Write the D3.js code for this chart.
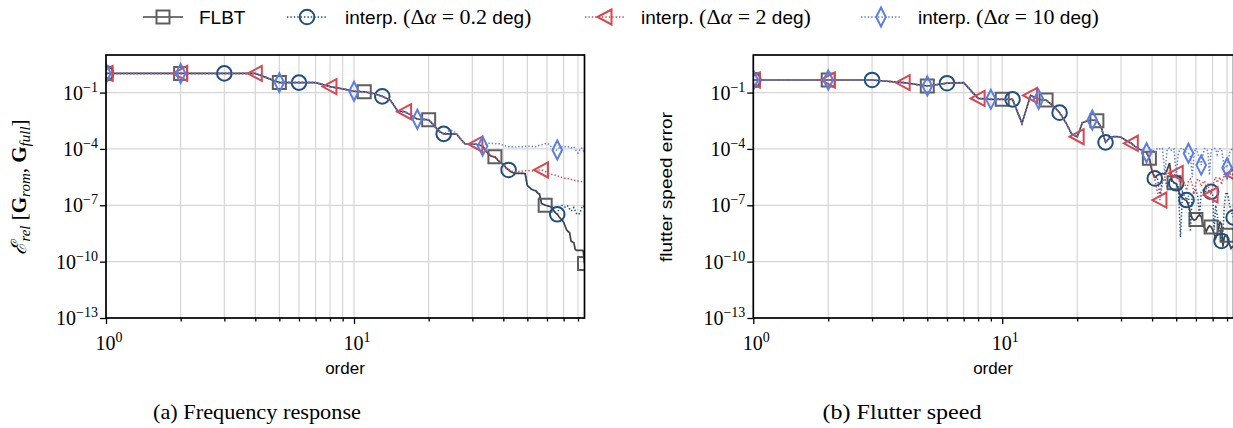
<!DOCTYPE html>
<html>
<head>
<meta charset="utf-8">
<script src="https://cdn.jsdelivr.net/npm/d3@7"></script>
<style>
  body { margin: 0; background: #fff; }
  svg { display: block; }
  .sans { font-family: 'Liberation Sans', Arial, sans-serif; }
  .serif { font-family: 'Liberation Serif', 'DejaVu Serif', serif; }
</style>
</head>
<body>
<svg id="chart" width="1233" height="428"></svg>
<script>
/* eslint-disable require-jsdoc */

// model orders 1..85 (x axis)
const orders = d3.range(1, 86);

// log10 of the error, one value per order
// (a) frequency response
const freqFlbt = [
  0.02, 0.02, 0.02, 0.02, -0.47, -0.47, -0.47, -0.68, -0.8, -0.93,
  -0.96, -1.05, -1.2, -1.4, -1.98, -2.02, -2.2, -2.42, -2.43, -2.45,
  -2.75, -3.05, -3.2, -3.2, -3.2, -3.22, -3.5, -3.72, -3.75, -3.75,
  -3.75, -3.8, -3.85, -4.1, -4.3, -4.4, -4.42, -4.6, -4.75, -4.8,
  -5.0, -5.12, -5.22, -5.28, -5.3, -5.3, -5.3, -5.3, -5.32, -5.95,
  -6.05, -6.15, -6.2, -6.22, -6.35, -6.4, -6.9, -6.95, -7.0, -7.02,
  -7.05, -7.08, -7.1, -7.3, -7.4, -7.48, -7.6, -7.7, -7.8, -7.9,
  -8.1, -8.3, -8.4, -8.45, -8.9, -8.95, -9.0, -9.35, -9.4, -9.4,
  -9.4, -9.4, -9.4, -9.42, -10.1,
];
const freqInterp02 = [
  0.02, 0.02, 0.02, 0.02, -0.47, -0.47, -0.47, -0.68, -0.8, -0.93,
  -0.96, -1.05, -1.2, -1.4, -1.98, -2.02, -2.2, -2.42, -2.43, -2.45,
  -2.75, -3.05, -3.2, -3.2, -3.2, -3.22, -3.5, -3.72, -3.75, -3.75,
  -3.75, -3.8, -3.85, -4.1, -4.3, -4.4, -4.42, -4.6, -4.75, -4.8,
  -5.0, -5.12, -5.22, -5.28, -5.3, -5.3, -5.3, -5.3, -5.32, -5.95,
  -6.05, -6.15, -6.2, -6.22, -6.35, -6.4, -6.9, -6.95, -7.0, -7.02,
  -7.05, -7.08, -7.1, -7.3, -7.4, -7.48, -7.2, -7.05, -7.0, -7.05,
  -7.1, -7.02, -7.05, -7.2, -7.3, -7.25, -7.12, -7.3, -7.45, -7.5,
  -7.45, -7.3, -7.1, -7.02, -7.1,
];
const freqInterp2 = [
  0.02, 0.02, 0.02, 0.02, -0.47, -0.47, -0.47, -0.68, -0.8, -0.93,
  -0.96, -1.05, -1.2, -1.4, -1.98, -2.02, -2.2, -2.42, -2.43, -2.45,
  -2.75, -3.05, -3.2, -3.2, -3.2, -3.22, -3.5, -3.72, -3.75, -3.75,
  -3.75, -3.8, -3.85, -4.1, -4.3, -4.4, -4.42, -4.6, -4.75, -4.8,
  -5.0, -5.12, -5.18, -5.2, -5.21, -5.2, -5.18, -5.17, -5.16, -5.15,
  -5.16, -5.17, -5.16, -5.15, -5.13, -5.12, -5.12, -5.15, -5.2, -5.25,
  -5.3, -5.33, -5.36, -5.38, -5.4, -5.43, -5.46, -5.5, -5.52, -5.54,
  -5.56, -5.57, -5.58, -5.6, -5.62, -5.64, -5.66, -5.68, -5.7, -5.71,
  -5.72, -5.73, -5.74, -5.75, -5.76,
];
const freqInterp10 = [
  0.02, 0.02, 0.02, 0.02, -0.47, -0.47, -0.47, -0.68, -0.8, -0.93,
  -0.96, -1.05, -1.2, -1.4, -1.98, -2.02, -2.2, -2.42, -2.43, -2.45,
  -2.75, -3.05, -3.2, -3.05, -3.0, -3.22, -3.5, -3.72, -3.75, -3.75,
  -3.75, -3.8, -3.85, -3.75, -3.7, -3.7, -3.72, -3.7, -3.75, -3.8,
  -3.85, -3.88, -3.9, -3.88, -3.9, -3.88, -3.9, -3.88, -3.86, -3.88,
  -3.86, -3.88, -3.85, -3.88, -3.84, -3.8, -3.78, -3.75, -3.72, -3.7,
  -3.75, -3.85, -3.95, -4.0, -4.05, -4.06, -3.95, -3.9, -3.88, -3.85,
  -3.88, -3.9, -3.88, -3.9, -3.95, -3.92, -3.88, -4.0, -4.15, -4.22,
  -4.1, -3.95, -3.97, -4.1, -4.15,
];

// (b) flutter speed
const flutFlbt = [
  -0.33, -0.33, -0.33, -0.47, -0.65, -0.5, -0.47, -1.31, -1.36, -1.36,
  -1.36, -2.64, -1.15, -1.36, -1.4, -1.7, -2.07, -2.6, -3.2, -3.35,
  -2.6, -2.5, -2.46, -2.5, -2.85, -3.65, -3.4, -3.35, -3.35, -3.38,
  -3.5, -3.6, -3.7, -3.85, -3.95, -4.05, -4.12, -4.2, -4.5, -5.2,
  -5.5, -5.4, -5.35, -5.3, -5.35, -5.1, -4.75, -5.65, -5.8, -5.85,
  -6.2, -6.5, -6.6, -6.7, -6.75, -7.0, -7.4, -7.7, -7.8, -7.75,
  -7.6, -7.5, -7.6, -8.0, -8.2, -8.4, -8.2, -8.1, -8.15, -8.3,
  -8.5, -8.75, -8.5, -8.2, -7.9, -8.0, -9.2, -8.7, -8.6, -8.6,
  -9.0, -9.1, -9.3, -9.2, -9.2,
];
const flutInterp02 = [
  -0.33, -0.33, -0.33, -0.47, -0.65, -0.5, -0.47, -1.31, -1.36, -1.36,
  -1.36, -2.64, -1.15, -1.36, -1.4, -1.7, -2.07, -2.6, -3.2, -3.35,
  -2.6, -2.5, -2.46, -2.5, -2.85, -3.65, -3.4, -3.35, -3.35, -3.38,
  -3.5, -3.6, -3.7, -3.85, -3.95, -4.05, -4.12, -4.2, -4.5, -5.2,
  -5.57, -5.5, -6.5, -5.6, -5.6, -6.0, -5.8, -5.7, -5.8, -5.83,
  -6.0, -8.7, -6.3, -6.5, -6.72, -6.5, -8.4, -6.4, -6.3, -6.2,
  -6.5, -7.6, -6.3, -6.2, -6.3, -6.25, -6.2, -6.28, -6.28, -6.4,
  -8.3, -7.0, -7.5, -8.0, -8.6, -8.9, -8.5, -7.0, -6.4, -6.3,
  -6.6, -7.0, -7.3, -7.5, -7.65,
];
const flutInterp2 = [
  -0.33, -0.33, -0.33, -0.47, -0.65, -0.5, -0.47, -1.31, -1.36, -1.36,
  -1.36, -2.64, -1.15, -1.36, -1.4, -1.7, -2.07, -2.6, -3.2, -3.35,
  -2.6, -2.5, -2.46, -2.5, -2.85, -3.65, -3.4, -3.35, -3.35, -3.38,
  -3.5, -3.6, -3.7, -3.85, -3.95, -4.05, -4.12, -4.2, -4.5, -5.1,
  -5.6, -6.3, -6.72, -5.8, -5.5, -5.2, -5.0, -5.6, -5.4, -5.3,
  -5.6, -5.9, -5.7, -5.8, -6.2, -5.7, -5.6, -5.9, -6.4, -5.8,
  -5.6, -5.7, -6.0, -5.8, -5.7, -6.1, -5.9, -6.2, -6.45, -6.0,
  -5.7, -5.5, -5.8, -5.6, -5.5, -5.9, -5.6, -5.4, -5.5, -5.6,
  -5.4, -5.3, -5.4, -5.35, -5.5,
];
const flutInterp10 = [
  -0.33, -0.33, -0.33, -0.47, -0.65, -0.5, -0.47, -1.31, -1.36, -1.36,
  -1.36, -2.64, -1.15, -1.36, -1.4, -1.7, -2.07, -2.6, -3.2, -3.35,
  -2.6, -2.5, -2.46, -2.5, -2.85, -3.65, -3.4, -3.35, -3.35, -3.38,
  -3.5, -3.6, -3.7, -3.85, -3.95, -4.05, -4.12, -4.2, -4.3, -4.0,
  -4.2, -3.95, -4.0, -3.97, -5.3, -4.0, -3.95, -4.1, -4.0, -5.4,
  -4.2, -4.0, -3.95, -4.1, -4.2, -4.23, -4.4, -5.5, -4.2, -3.95,
  -4.2, -4.6, -4.86, -4.3, -3.98, -4.0, -4.1, -5.4, -4.1, -4.0,
  -3.97, -4.0, -4.3, -4.05, -3.98, -4.0, -4.5, -5.0, -4.9, -5.0,
  -4.6, -4.2, -4.05, -4.0, -4.1,
];

// orders that carry a marker
const freqMarkFlbt = [1, 2, 5, 11, 20, 37, 59, 85];
const freqMark02 = [1, 3, 6, 13, 23, 42, 66];
const freqMark2 = [1, 2, 4, 8, 16, 31, 57];
const freqMark10 = [1, 2, 5, 10, 18, 33, 66];
const flutMarkFlbt = [1, 2, 5, 10, 15, 24, 39, 49, 60, 69, 80];
const flutMark02 = [1, 3, 6, 11, 17, 26, 41, 50, 55, 69, 76, 85];
const flutMark2 = [1, 2, 4, 8, 13, 20, 33, 43, 50, 69, 84];
const flutMark10 = [1, 2, 5, 9, 14, 23, 38, 56, 63, 80];

// axis ticks
const yTickExps = [-13, -10, -7, -4, -1];
const xMajorTicks = [1, 10];
const xMinorTicks = [2, 3, 4, 5, 6, 7, 8, 9, 20, 30, 40, 50, 60, 70, 80];
const legendAngles = [null, '0.2', '2', '10'];

const styles = [
  {color: '#5e5e5e', line: '#444444', dash: null, shape: 'square', lw: 1.7},
  {color: '#1f4e80', line: '#1f4e80', dash: '1.4,2', shape: 'circle', lw: 1.5},
  {color: '#d9474f', line: '#d9474f', dash: '1.4,2', shape: 'triangle', lw: 1.5},
  {color: '#5b7ee5', line: '#5b7ee5', dash: '1.4,2', shape: 'diamond', lw: 1.5},
];

const shapes = {
  square: 'M-6.5,-6.5H6.5V6.5H-6.5Z',
  circle: d3.symbol(d3.symbolCircle, Math.PI * 7.3 * 7.3)(),
  triangle: 'M-7.5,0L6.5,-7.5L6.5,7.5Z',
  diamond: 'M0,-9.5L4.8,0L0,9.5L-4.8,0Z',
};

const svg = d3.select('#chart');
svg.append('rect').attr('width', 1233).attr('height', 428).attr('fill', '#fff');

const expLabel = (text, exp) => {
  text.append('tspan').text('10');
  text.append('tspan')
      .attr('dy', -8)
      .attr('font-size', 14)
      .text(exp < 0 ? '\u2212' + (-exp) : String(exp));
};

const drawPanel = (cfg) => {
  const x = d3.scaleLog().domain([1, 85]).range([cfg.left, cfg.right]);
  const y = d3.scaleLog().domain([1e-13, 10]).range([318, 55]);
  const g = svg.append('g');
  const clipId = 'clip' + cfg.id;
  g.append('clipPath').attr('id', clipId)
      .append('rect')
      .attr('x', cfg.left).attr('y', 55)
      .attr('width', cfg.right - cfg.left).attr('height', 263);

  // grid
  g.append('g').selectAll('line')
      .data(xMajorTicks.concat(xMinorTicks))
      .join('line')
      .attr('x1', (d) => x(d)).attr('x2', (d) => x(d))
      .attr('y1', 55).attr('y2', 318)
      .attr('stroke', '#d6d6d6').attr('stroke-width', 1.2);
  g.append('g').selectAll('line')
      .data(yTickExps)
      .join('line')
      .attr('x1', cfg.left).attr('x2', cfg.right)
      .attr('y1', (d) => y(10 ** d)).attr('y2', (d) => y(10 ** d))
      .attr('stroke', '#d6d6d6').attr('stroke-width', 1.2);

  // series
  const line = d3.line()
      .x((d) => x(d[0]))
      .y((d) => y(10 ** d[1]));
  const plot = g.append('g').attr('clip-path', `url(#${clipId})`);
  cfg.series.forEach((vals, i) => {
    const st = styles[i];
    const pts = orders.map((o, k) => [o, vals[k]]);
    plot.append('path')
        .datum(pts)
        .attr('d', line)
        .attr('fill', 'none')
        .attr('stroke', st.line)
        .attr('stroke-width', st.lw)
        .attr('stroke-dasharray', st.dash);
    plot.append('g').selectAll('path')
        .data(cfg.marks[i].map((o) => [o, vals[o - 1]]))
        .join('path')
        .attr('transform', (d) => `translate(${x(d[0])},${y(10 ** d[1])})`)
        .attr('d', shapes[st.shape])
        .attr('fill', 'none')
        .attr('stroke', st.color)
        .attr('stroke-width', 2);
  });

  // axes
  g.append('g')
      .attr('transform', 'translate(0,318)')
      .call(d3.axisBottom(x).tickValues(xMinorTicks).tickSize(3.5).tickFormat(''))
      .call((a) => a.select('.domain').remove());
  g.append('g')
      .attr('transform', 'translate(0,318)')
      .call(d3.axisBottom(x).tickValues(xMajorTicks).tickSize(6).tickFormat(''))
      .call((a) => a.select('.domain').remove());
  g.append('g')
      .attr('transform', `translate(${cfg.left},0)`)
      .call(d3.axisLeft(y).tickValues(yTickExps.map((e) => 10 ** e))
          .tickSize(6).tickFormat(''))
      .call((a) => a.select('.domain').remove());
  g.selectAll('.tick line').attr('stroke', '#000').attr('stroke-width', 1.3);

  g.append('rect')
      .attr('x', cfg.left).attr('y', 55)
      .attr('width', cfg.right - cfg.left).attr('height', 263)
      .attr('fill', 'none').attr('stroke', '#000').attr('stroke-width', 1.7);

  // tick labels
  yTickExps.forEach((e) => {
    const t = g.append('text')
        .attr('class', 'serif')
        .attr('x', cfg.left - 8)
        .attr('y', y(10 ** e) + 7)
        .attr('text-anchor', 'end')
        .attr('font-size', 20);
    expLabel(t, e);
  });
  xMajorTicks.forEach((v) => {
    const t = g.append('text')
        .attr('class', 'serif')
        .attr('x', x(v) + 3)
        .attr('y', 350)
        .attr('text-anchor', 'middle')
        .attr('font-size', 20);
    expLabel(t, Math.round(Math.log10(v)));
  });

  g.append('text')
      .attr('class', 'sans')
      .attr('x', cfg.labelX)
      .attr('y', 374)
      .attr('text-anchor', 'middle')
      .attr('font-size', 17)
      .text('order');

  g.append('text')
      .attr('class', 'serif')
      .attr('x', cfg.captionX)
      .attr('y', 419)
      .attr('text-anchor', 'middle')
      .attr('font-size', 22)
      .attr('textLength', cfg.captionW)
      .attr('lengthAdjust', 'spacingAndGlyphs')
      .text(cfg.caption);
  return g;
};

const gA = drawPanel({
  id: 'a', left: 106, right: 584.5, labelX: 345, captionX: 257, captionW: 208,
  caption: '(a) Frequency response',
  series: [freqFlbt, freqInterp02, freqInterp2, freqInterp10],
  marks: [freqMarkFlbt, freqMark02, freqMark2, freqMark10],
});
const gB = drawPanel({
  id: 'b', left: 753.3, right: 1233.6, labelX: 993, captionX: 902, captionW: 159,
  caption: '(b) Flutter speed',
  series: [flutFlbt, flutInterp02, flutInterp2, flutInterp10],
  marks: [flutMarkFlbt, flutMark02, flutMark2, flutMark10],
});

// y labels
const yl = gA.append('text')
    .attr('class', 'serif')
    .attr('transform', 'translate(26,187) rotate(-90)')
    .attr('text-anchor', 'middle')
    .attr('font-size', 21);
yl.append('tspan').attr('font-style', 'italic').text('\u2130');
yl.append('tspan').attr('font-style', 'italic').attr('font-size', 15)
    .attr('dy', 4).text('rel');
yl.append('tspan').attr('dy', -4).text(' [');
yl.append('tspan').attr('font-weight', 'bold').text('G');
yl.append('tspan').attr('font-style', 'italic').attr('font-size', 15)
    .attr('dy', 4).text('rom');
yl.append('tspan').attr('dy', -4).text(', ');
yl.append('tspan').attr('font-weight', 'bold').text('G');
yl.append('tspan').attr('font-style', 'italic').attr('font-size', 15)
    .attr('dy', 4).text('full');
yl.append('tspan').attr('dy', -4).text(']');

gB.append('text')
    .attr('class', 'sans')
    .attr('transform', 'translate(672,187) rotate(-90)')
    .attr('text-anchor', 'middle')
    .attr('font-size', 17)
    .attr('textLength', 150)
    .attr('lengthAdjust', 'spacingAndGlyphs')
    .text('flutter speed error');

// legend
const legendMarkX = [163, 307, 605, 881];
const legendTextX = [199, 345, 641, 918];
const legend = svg.append('g');
legendAngles.forEach((ang, i) => {
  const st = styles[i];
  const cx = legendMarkX[i];
  legend.append('line')
      .attr('x1', cx - 20).attr('x2', cx + 20)
      .attr('y1', 17).attr('y2', 17)
      .attr('stroke', st.line)
      .attr('stroke-width', st.lw)
      .attr('stroke-dasharray', st.dash);
  legend.append('path')
      .attr('transform', `translate(${cx},17)`)
      .attr('d', shapes[st.shape])
      .attr('fill', 'none')
      .attr('stroke', st.color)
      .attr('stroke-width', 2);
  const t = legend.append('text')
      .attr('x', legendTextX[i])
      .attr('y', 24)
      .attr('font-size', 19);
  if (ang === null) {
    t.append('tspan').attr('class', 'sans').text('FLBT');
    return;
  }
  t.append('tspan').attr('class', 'sans').text('interp. ');
  t.append('tspan').attr('class', 'serif').attr('font-size', 22).text(' (\u0394');
  t.append('tspan').attr('class', 'serif').attr('font-size', 22)
      .attr('font-style', 'italic').text('\u03b1');
  t.append('tspan').attr('class', 'serif').attr('font-size', 22)
      .text(' = ' + ang);
  t.append('tspan').attr('class', 'sans').text(' deg');
  t.append('tspan').attr('class', 'serif').attr('font-size', 22).text(')');
});
</script>
</body>
</html>
